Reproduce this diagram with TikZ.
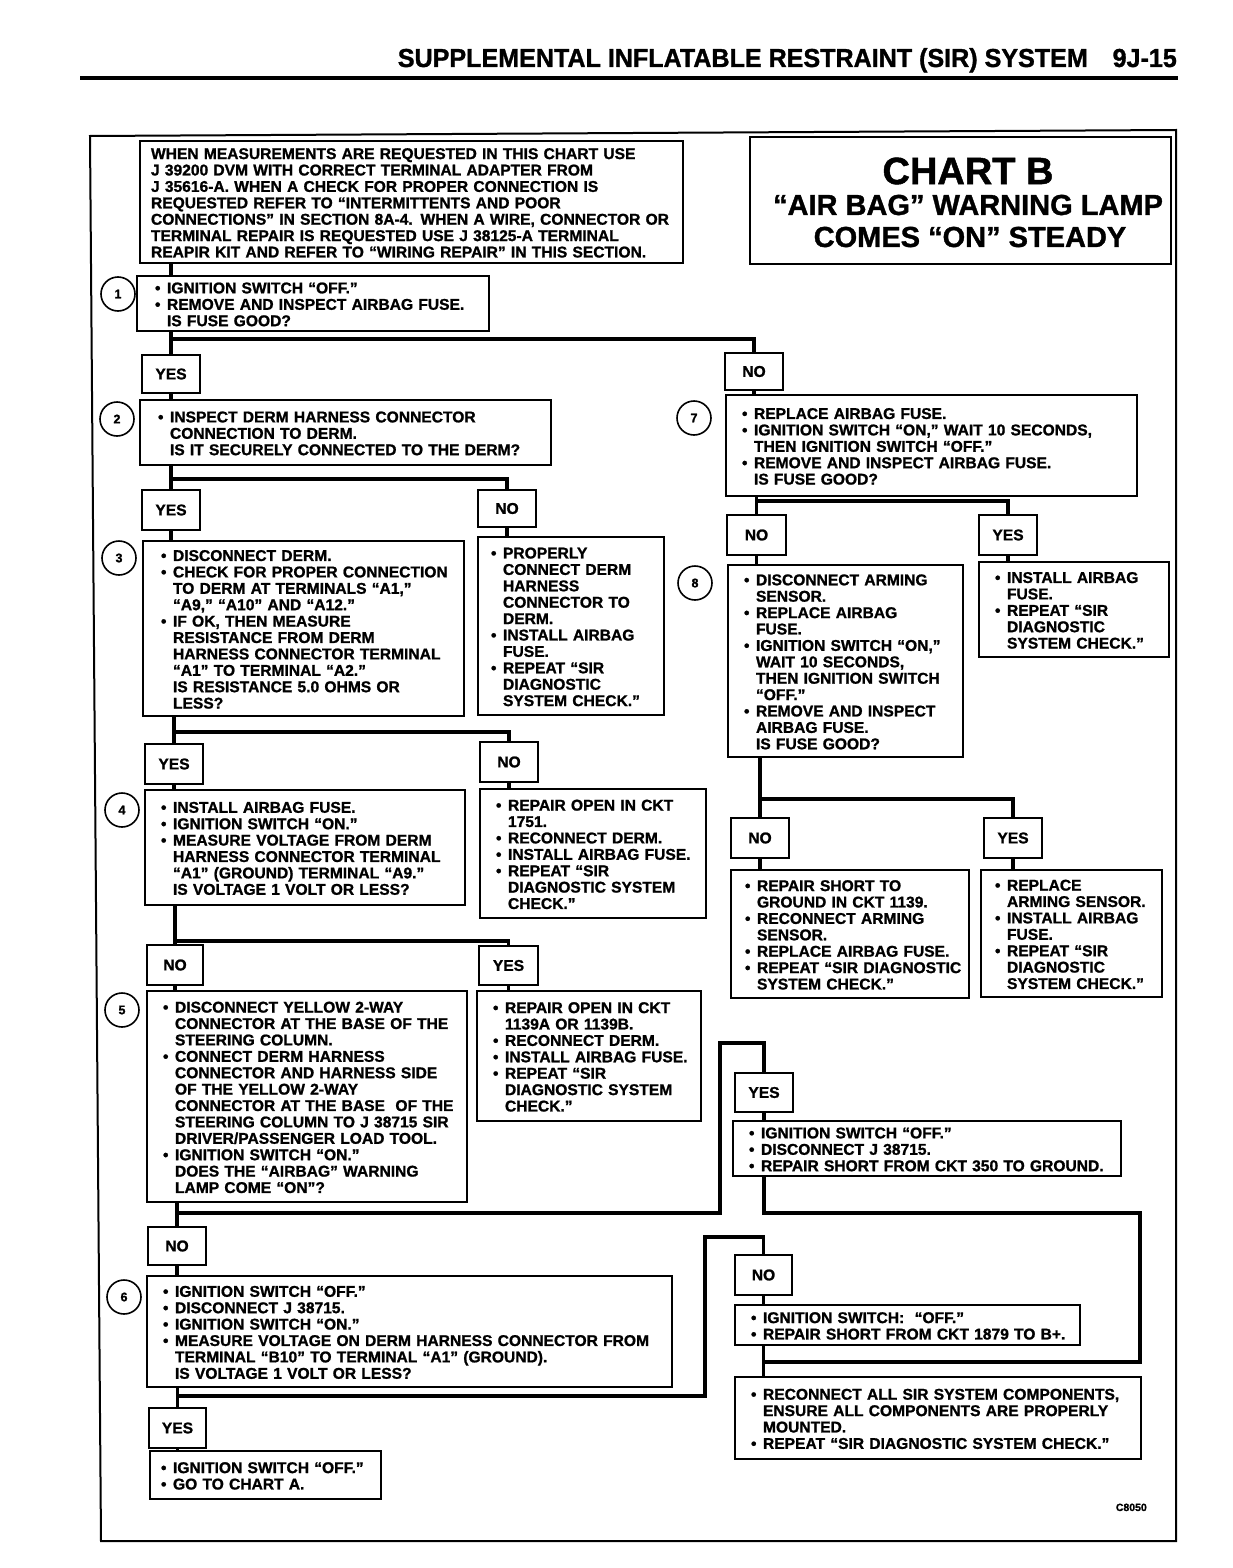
\documentclass[tikz,border=0pt]{standalone}
\usepackage{fontspec}
\usepackage{graphicx}
\setmainfont{Liberation Sans}[BoldFeatures={FakeBold=1.2}]
\usetikzlibrary{calc}
\newcommand\bodyf{\bfseries\fontsize{15.6}{16.4}\selectfont}
\newcommand\bul{\makebox[12pt][l]{•}}
\newcommand\hind{\hspace*{12pt}}
\newcommand\Tb[1]{\raisebox{-3pt}[\height][\depth]{\begin{tabular}{@{}l@{}}#1\end{tabular}}}
\def\bxpad{16}
\newcommand\mybox[6]{%
  \pgfmathsetmacro\bxw{#4-#2-2*\bxpad}%
  \pgfmathsetmacro\bxh{#5-#3}%
  \node[box, inner xsep=\bxpad pt, text width=\bxw pt, minimum height=\bxh pt] (#1) at ({(#2+#4)/2},{(#3+#5)/2}) {\Tb{#6}};}
\newcommand\mylab[6]{%
  \pgfmathsetmacro\bxw{#4-#2}%
  \pgfmathsetmacro\bxh{#5-#3}%
  \node[lab, minimum width=\bxw pt, minimum height=\bxh pt] (#1) at ({(#2+#4)/2},{(#3+#5)/2}) {#6};}
\begin{document}
\begin{tikzpicture}[x=1pt,y=-1pt,
  box/.style={draw, line width=2pt, inner ysep=0pt, align=left, font=\bodyf},
  lab/.style={draw, line width=2pt, inner sep=0pt, font=\bodyf},
  circ/.style={draw, circle, line width=1.6pt, inner sep=0pt, minimum size=34pt, font=\bfseries\fontsize{12.5}{13}\selectfont},
  conn/.style={line width=3.2pt},
  ttl/.style={inner sep=0pt, font=\bfseries}]
\useasboundingbox (0,0) rectangle (1232,1568);

% header
\node[anchor=base east, inner sep=0pt, font=\bfseries\fontsize{26}{28}\selectfont] (hdr) at (1088,67) {\scalebox{0.965}[1]{SUPPLEMENTAL INFLATABLE RESTRAINT (SIR) SYSTEM}};
\node[anchor=base east, inner sep=0pt, font=\bfseries\fontsize{26}{28}\selectfont] (pg) at (1177,67) {\scalebox{0.965}[1]{9J-15}};
\draw[line width=4pt] (80,78) -- (1178,78);

% frame
\draw[line width=2pt] (90,136) -- (1176,130) -- (1176,1541) -- (101,1541) -- cycle;

% title
\node[draw, line width=2pt, minimum width=421pt, minimum height=127pt, inner sep=0pt] (titlebox) at (960.5,200.5) {};
\node[ttl, font=\bfseries\fontsize{38}{40}\selectfont] (t1) at (968,171) {CHART B};
\node[ttl, font=\bfseries\fontsize{29}{31}\selectfont] (t2) at (968,205) {“AIR BAG” WARNING LAMP};
\node[ttl, font=\bfseries\fontsize{29}{31}\selectfont] (t3) at (970,237) {COMES “ON” STEADY};

% note
\def\bxpad{11}
\mybox{note}{140}{141}{683}{263}{WHEN MEASUREMENTS ARE REQUESTED IN THIS CHART USE\\
J 39200 DVM WITH CORRECT TERMINAL ADAPTER FROM\\
J 35616-A. WHEN A CHECK FOR PROPER CONNECTION IS\\
REQUESTED REFER TO “INTERMITTENTS AND POOR\\
CONNECTIONS” IN SECTION 8A-4. WHEN A WIRE, CONNECTOR OR\\
TERMINAL REPAIR IS REQUESTED USE J 38125-A TERMINAL\\
REAPIR KIT AND REFER TO “WIRING REPAIR” IN THIS SECTION.}

\def\bxpad{18}
% left column
\node[circ] (c1) at (118,294) {1};
\mybox{b1}{137}{276}{489}{331}{\bul IGNITION SWITCH “OFF.”\\ \bul REMOVE AND INSPECT AIRBAG FUSE.\\ \hind IS FUSE GOOD?}
\mylab{yes1}{142}{355}{200}{393}{YES}
\mylab{no1}{725}{353}{783}{390}{NO}

\node[circ] (c2) at (117,419) {2};
\mybox{b2}{140}{400}{551}{465}{\bul INSPECT DERM HARNESS CONNECTOR\\ \hind CONNECTION TO DERM.\\ \hind IS IT SECURELY CONNECTED TO THE DERM?}
\mylab{yes2}{142}{490}{200}{530}{YES}
\mylab{no2}{478}{490}{536}{527}{NO}

\node[circ] (c3) at (119,558) {3};
\mybox{b3}{143}{541}{464}{716}{\bul DISCONNECT DERM.\\ \bul CHECK FOR PROPER CONNECTION\\ \hind TO DERM AT TERMINALS “A1,”\\ \hind “A9,” “A10” AND “A12.”\\ \bul IF OK, THEN MEASURE\\ \hind RESISTANCE FROM DERM\\ \hind HARNESS CONNECTOR TERMINAL\\ \hind “A1” TO TERMINAL “A2.”\\ \hind IS RESISTANCE 5.0 OHMS OR\\ \hind LESS?}
\def\bxpad{13}
\mybox{r2}{478}{537}{664}{715}{\bul PROPERLY\\ \hind CONNECT DERM\\ \hind HARNESS\\ \hind CONNECTOR TO\\ \hind DERM.\\ \bul INSTALL AIRBAG\\ \hind FUSE.\\ \bul REPEAT “SIR\\ \hind DIAGNOSTIC\\ \hind SYSTEM CHECK.”}
\def\bxpad{16}
\mylab{yes3}{145}{744}{203}{784}{YES}
\mylab{no3}{480}{742}{538}{782}{NO}

\node[circ] (c4) at (122,810) {4};
\mybox{b4}{145}{790}{465}{905}{\bul INSTALL AIRBAG FUSE.\\ \bul IGNITION SWITCH “ON.”\\ \bul MEASURE VOLTAGE FROM DERM\\ \hind HARNESS CONNECTOR TERMINAL\\ \hind “A1” (GROUND) TERMINAL “A9.”\\ \hind IS VOLTAGE 1 VOLT OR LESS?}
\mybox{r3}{480}{789}{706}{918}{\bul REPAIR OPEN IN CKT\\ \hind 1751.\\ \bul RECONNECT DERM.\\ \bul INSTALL AIRBAG FUSE.\\ \bul REPEAT “SIR\\ \hind DIAGNOSTIC SYSTEM\\ \hind CHECK.”}
\mylab{no4}{147}{945}{203}{985}{NO}
\mylab{yes4}{479}{946}{538}{985}{YES}

\node[circ] (c5) at (122,1010) {5};
\mybox{b5}{147}{991}{467}{1202}{\bul DISCONNECT YELLOW 2-WAY\\ \hind CONNECTOR AT THE BASE OF THE\\ \hind STEERING COLUMN.\\ \bul CONNECT DERM HARNESS\\ \hind CONNECTOR AND HARNESS SIDE\\ \hind OF THE YELLOW 2-WAY\\ \hind CONNECTOR AT THE BASE\ \ OF THE\\ \hind STEERING COLUMN TO J 38715 SIR\\ \hind DRIVER/PASSENGER LOAD TOOL.\\ \bul IGNITION SWITCH “ON.”\\ \hind DOES THE “AIRBAG” WARNING\\ \hind LAMP COME “ON”?}
\mybox{r4}{477}{991}{701}{1121}{\bul REPAIR OPEN IN CKT\\ \hind 1139A OR 1139B.\\ \bul RECONNECT DERM.\\ \bul INSTALL AIRBAG FUSE.\\ \bul REPEAT “SIR\\ \hind DIAGNOSTIC SYSTEM\\ \hind CHECK.”}
\mylab{no5}{148}{1227}{206}{1265}{NO}
\mylab{yes5}{735}{1073}{793}{1112}{YES}
\mybox{r5}{733}{1121}{1121}{1176}{\bul IGNITION SWITCH “OFF.”\\ \bul DISCONNECT J 38715.\\ \bul REPAIR SHORT FROM CKT 350 TO GROUND.}

\node[circ] (c6) at (124,1297) {6};
\mybox{b6}{147}{1276}{672}{1387}{\bul IGNITION SWITCH “OFF.”\\ \bul DISCONNECT J 38715.\\ \bul IGNITION SWITCH “ON.”\\ \bul MEASURE VOLTAGE ON DERM HARNESS CONNECTOR FROM\\ \hind TERMINAL “B10” TO TERMINAL “A1” (GROUND).\\ \hind IS VOLTAGE 1 VOLT OR LESS?}
\mylab{no6}{735}{1255}{792}{1295}{NO}
\mybox{r6}{735}{1305}{1080}{1345}{\bul IGNITION SWITCH:\ \ “OFF.”\\ \bul REPAIR SHORT FROM CKT 1879 TO B+.}
\mybox{fin}{735}{1377}{1141}{1459}{\bul RECONNECT ALL SIR SYSTEM COMPONENTS,\\ \hind ENSURE ALL COMPONENTS ARE PROPERLY\\ \hind MOUNTED.\\ \bul REPEAT “SIR DIAGNOSTIC SYSTEM CHECK.”}
\mylab{yes6}{149}{1408}{206}{1448}{YES}
\def\bxpad{11}
\mybox{r6y}{150}{1451}{381}{1499}{\bul IGNITION SWITCH “OFF.”\\ \bul GO TO CHART A.}

% right column
\def\bxpad{16}
\node[circ] (c7) at (694,418) {7};
\mybox{b7}{726}{395}{1137}{496}{\bul REPLACE AIRBAG FUSE.\\ \bul \makebox[360pt][s]{IGNITION SWITCH “ON,” WAIT 10 SECONDS,}\\ \hind THEN IGNITION SWITCH “OFF.”\\ \bul REMOVE AND INSPECT AIRBAG FUSE.\\ \hind IS FUSE GOOD?}
\mylab{no7}{727}{515}{786}{555}{NO}
\mylab{yes7}{979}{515}{1037}{555}{YES}

\node[circ] (c8) at (695,583) {8};
\mybox{b8}{728}{565}{963}{757}{\bul DISCONNECT ARMING\\ \hind SENSOR.\\ \bul REPLACE AIRBAG\\ \hind FUSE.\\ \bul IGNITION SWITCH “ON,”\\ \hind WAIT 10 SECONDS,\\ \hind THEN IGNITION SWITCH\\ \hind “OFF.”\\ \bul REMOVE AND INSPECT\\ \hind AIRBAG FUSE.\\ \hind IS FUSE GOOD?}
\mybox{r7}{979}{562}{1169}{657}{\bul INSTALL AIRBAG\\ \hind FUSE.\\ \bul REPEAT “SIR\\ \hind DIAGNOSTIC\\ \hind SYSTEM CHECK.”}
\mylab{no8}{731}{818}{789}{858}{NO}
\mylab{yes8}{984}{818}{1042}{858}{YES}
\def\bxpad{14}
\mybox{r8n}{731}{870}{969}{998}{\bul REPAIR SHORT TO\\ \hind GROUND IN CKT 1139.\\ \bul RECONNECT ARMING\\ \hind SENSOR.\\ \bul REPLACE AIRBAG FUSE.\\ \bul REPEAT “SIR DIAGNOSTIC\\ \hind SYSTEM CHECK.”}
\mybox{r8y}{981}{870}{1162}{997}{\bul REPLACE\\ \hind ARMING SENSOR.\\ \bul INSTALL AIRBAG\\ \hind FUSE.\\ \bul REPEAT “SIR\\ \hind DIAGNOSTIC\\ \hind SYSTEM CHECK.”}

\node[anchor=base east, inner sep=0pt, font=\bfseries\fontsize{10.5}{12}\selectfont] (code) at (1147,1511) {C8050};

% connectors
\coordinate (j1) at ($(b1.south -| yes1)+(0,7)$);
\draw[conn] (note.south -| yes1) -- (b1.north -| yes1);
\draw[conn] (b1.south -| yes1) -- (yes1.north);
\draw[conn] (j1) -| (no1.north);
\draw[conn] (yes1.south) -- (b2.north -| yes1);
\draw[conn] (no1.south) -- (b7.north -| no1);

\coordinate (j2) at ($(b2.south -| yes2)+(0,13)$);
\draw[conn] (b2.south -| yes2) -- (yes2.north);
\draw[conn] (j2) -| (no2.north);
\draw[conn] (yes2.south) -- (b3.north -| yes2);
\draw[conn] (no2.south) -- (r2.north -| no2);

\coordinate (j3) at ($(b3.south -| yes3)+(0,15)$);
\draw[conn] (b3.south -| yes3) -- (yes3.north);
\draw[conn] (j3) -| (no3.north);
\draw[conn] (yes3.south) -- (b4.north -| yes3);
\draw[conn] (no3.south) -- (r3.north -| no3);

\coordinate (j4) at ($(b4.south -| no4)+(0,35)$);
\draw[conn] (b4.south -| no4) -- (no4.north);
\draw[conn] (j4) -| (yes4.north);
\draw[conn] (no4.south) -- (b5.north -| no4);
\draw[conn] (yes4.south) -- (r4.north -| yes4);

\coordinate (j5) at ($(b5.south -| no5)+(0,10)$);
\coordinate (k5a) at (720,1043);
\coordinate (k5b) at (1140,1213);
\coordinate (k5c) at (1140,1362);
\draw[conn] (b5.south -| no5) -- (no5.north);
\draw[conn] (j5) -| (k5a) -| (yes5.north);
\draw[conn] (no5.south) -- (b6.north -| no5);
\draw[conn] (yes5.south) -- (r5.north -| yes5);
\draw[conn] (r5.south -| yes5) |- (k5b) -- (k5c) -- (k5c -| no6);

\coordinate (j6) at ($(b6.south -| yes6)+(0,8)$);
\coordinate (k6) at (705,1237);
\draw[conn] (b6.south -| yes6) -- (yes6.north);
\draw[conn] (j6) -| (k6) -| (no6.north);
\draw[conn] (no6.south) -- (r6.north -| no6);
\draw[conn] (r6.south -| no6) -- (fin.north -| no6);
\draw[conn] (yes6.south) -- (r6y.north -| yes6);

\coordinate (j7) at ($(b7.south -| no7)+(0,4)$);
\draw[conn] (b7.south -| no7) -- (no7.north);
\draw[conn] (j7) -| (yes7.north);
\draw[conn] (no7.south) -- (b8.north -| no7);
\draw[conn] (yes7.south) -- (r7.north -| yes7);

\coordinate (j8) at ($(b8.south -| no8)+(0,41)$);
\draw[conn] (b8.south -| no8) -- (no8.north);
\draw[conn] (j8) -| (yes8.north);
\draw[conn] (no8.south) -- (r8n.north -| no8);
\draw[conn] (yes8.south) -- (r8y.north -| yes8);
\end{tikzpicture}
\end{document}
